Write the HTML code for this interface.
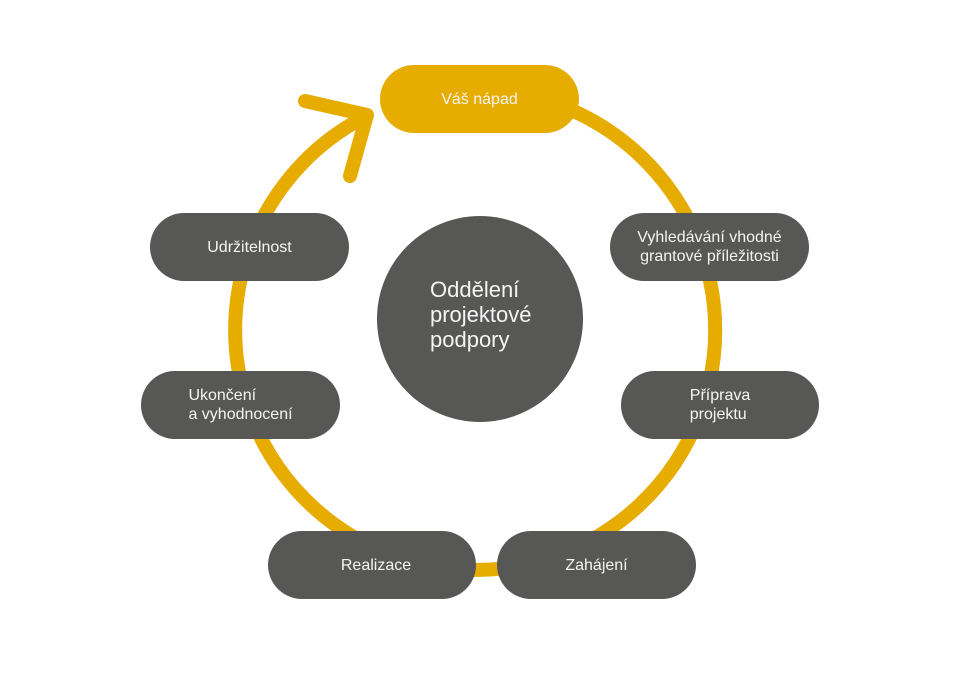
<!DOCTYPE html>
<html>
<head>
<meta charset="utf-8">
<style>
  html, body { margin: 0; padding: 0; background: #ffffff; }
  body { width: 960px; height: 678px; position: relative; overflow: hidden;
         font-family: "Liberation Sans", "DejaVu Sans", sans-serif; }
  svg { position: absolute; left: 0; top: 0; }
  .pill { position: absolute; height: 68px; border-radius: 34px; background: #575756;
          color: #f4f4f4; font-size: 16px; line-height: 19px;
          display: flex; align-items: center; justify-content: center; }
  .pill.y { background: #e6ac00; }
  .pill .t { display: inline-block; text-align: left; }
  .center { position: absolute; left: 377px; top: 216px; width: 206px; height: 206px;
            border-radius: 50%; background: #575756; }
  .ctext { position: absolute; left: 430px; top: 277px; color: #f4f4f4;
           font-size: 22px; line-height: 25px; }
</style>
</head>
<body>
<svg width="960" height="678" viewBox="0 0 960 678">
  <path d="M 473 90 A 240 240 0 1 1 367.5 115.5" fill="none" stroke="#e6ac00" stroke-width="14"/>
  <polyline points="305,101 367,115 350,176" fill="none" stroke="#e6ac00" stroke-width="14"
            stroke-linecap="round" stroke-linejoin="round"/>
</svg>

<div class="pill y" style="left:380px; top:65px; width:199px;"><span class="t">Váš nápad</span></div>
<div class="pill" style="left:610px; top:213px; width:199px; text-align:center;"><span style="text-align:center;">Vyhledávání vhodné<br>grantové příležitosti</span></div>
<div class="pill" style="left:621px; top:371px; width:198px;"><span class="t">Příprava<br>projektu</span></div>
<div class="pill" style="left:497px; top:531px; width:199px;"><span class="t">Zahájení</span></div>
<div class="pill" style="left:268px; top:531px; width:208px;"><span class="t" style="margin-left:8px;">Realizace</span></div>
<div class="pill" style="left:141px; top:371px; width:199px;"><span class="t">Ukončení<br>a vyhodnocení</span></div>
<div class="pill" style="left:150px; top:213px; width:199px;"><span class="t">Udržitelnost</span></div>

<div class="center"></div>
<div class="ctext">Oddělení<br>projektové<br>podpory</div>
</body>
</html>
